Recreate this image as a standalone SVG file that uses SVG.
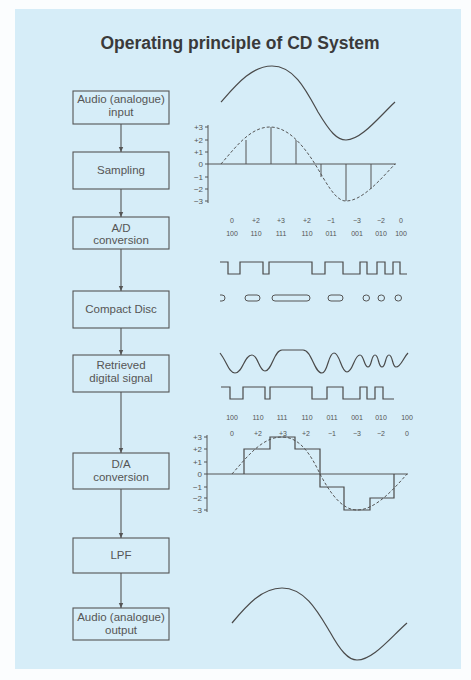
<svg xmlns="http://www.w3.org/2000/svg" width="471" height="680" viewBox="0 0 471 680">
<style>
.box{fill:none;stroke:#555;stroke-width:1.1}
.bt{font-family:"Liberation Sans",Arial,sans-serif;font-size:11.5px;fill:#555;text-anchor:middle}
.title{font-family:"Liberation Sans",Arial,sans-serif;font-size:17.5px;font-weight:bold;fill:#3a3a3a;text-anchor:middle}
.conn{stroke:#555;stroke-width:1.1;fill:none}
.ln{fill:none;stroke:#4a4a4a;stroke-width:1.2}
.thin{fill:none;stroke:#555;stroke-width:1}
.dash{fill:none;stroke:#555;stroke-width:1;stroke-dasharray:3 2}
.ax{font-family:"Liberation Sans",Arial,sans-serif;font-size:8px;fill:#555;text-anchor:end}
.cd{font-family:"Liberation Sans",Arial,sans-serif;font-size:7px;fill:#555;text-anchor:middle}
</style>
<defs>
<marker id="ah" markerWidth="6" markerHeight="6" refX="5" refY="3" orient="auto" markerUnits="userSpaceOnUse">
<path d="M0,0.8 L5,3 L0,5.2 Z" fill="#555"/>
</marker>
</defs>
<rect x="0" y="0" width="471" height="680" fill="#fbfdfe"/>
<rect x="15" y="9" width="446" height="660" fill="#d6edf8"/>
<text class="title" x="240" y="49">Operating principle of CD System</text>

<g id="connectors">
<line class="conn" x1="121" y1="124" x2="121" y2="152" marker-end="url(#ah)"/>
<line class="conn" x1="121" y1="189" x2="121" y2="217" marker-end="url(#ah)"/>
<line class="conn" x1="121" y1="249" x2="121" y2="291" marker-end="url(#ah)"/>
<line class="conn" x1="121" y1="328" x2="121" y2="355" marker-end="url(#ah)"/>
<line class="conn" x1="121" y1="392" x2="121" y2="453" marker-end="url(#ah)"/>
<line class="conn" x1="121" y1="489" x2="121" y2="538" marker-end="url(#ah)"/>
<line class="conn" x1="121" y1="573" x2="121" y2="608" marker-end="url(#ah)"/>
</g>

<g id="n1"><rect class="box" x="73" y="91" width="96" height="33"/><text class="bt" x="121" y="103">Audio (analogue)</text><text class="bt" x="121" y="116">input</text></g>
<g id="n2"><rect class="box" x="73" y="152" width="96" height="37"/><text class="bt" x="121" y="174">Sampling</text></g>
<g id="n3"><rect class="box" x="73" y="217" width="96" height="32"/><text class="bt" x="121" y="232">A/D</text><text class="bt" x="121" y="244">conversion</text></g>
<g id="n4"><rect class="box" x="73" y="291" width="96" height="37"/><text class="bt" x="121" y="313">Compact Disc</text></g>
<g id="n5"><rect class="box" x="73" y="355" width="96" height="37"/><text class="bt" x="121" y="369">Retrieved</text><text class="bt" x="121" y="382">digital signal</text></g>
<g id="n6"><rect class="box" x="73" y="453" width="96" height="36"/><text class="bt" x="121" y="468">D/A</text><text class="bt" x="121" y="481">conversion</text></g>
<g id="n7"><rect class="box" x="73" y="538" width="96" height="35"/><text class="bt" x="121" y="559">LPF</text></g>
<g id="n8"><rect class="box" x="73" y="608" width="96" height="32"/><text class="bt" x="121" y="621">Audio (analogue)</text><text class="bt" x="121" y="634">output</text></g>

<!-- input sine -->
<path class="ln" d="M221,102 C237,84 252,66 272,66 C294,66 306,90 318,112 C330,132 337,140 346,140 C361,140 378,118 395,102"/>

<!-- sampling graph -->
<g id="sampling">
<line class="thin" x1="208" y1="125" x2="208" y2="203"/>
<line class="thin" x1="205" y1="164" x2="396" y2="164"/>
<g class="thin">
<line x1="205" y1="127" x2="208" y2="127"/><line x1="205" y1="140" x2="208" y2="140"/><line x1="205" y1="152" x2="208" y2="152"/>
<line x1="205" y1="177" x2="208" y2="177"/><line x1="205" y1="189" x2="208" y2="189"/><line x1="205" y1="201" x2="208" y2="201"/>
</g>
<text class="ax" x="203" y="130">+3</text><text class="ax" x="203" y="143">+2</text><text class="ax" x="203" y="155">+1</text>
<text class="ax" x="203" y="167">0</text><text class="ax" x="203" y="180">−1</text><text class="ax" x="203" y="192">−2</text><text class="ax" x="203" y="204">−3</text>
<path class="dash" d="M221,164 C235,148 250,127 270,127 C288,127 303,145 315,164 C326,182 335,201 346,201 C362,201 380,180 395,164"/>
<g class="thin">
<line x1="246" y1="164" x2="246" y2="140"/><line x1="271" y1="164" x2="271" y2="127"/><line x1="296" y1="164" x2="296" y2="140"/>
<line x1="321" y1="164" x2="321" y2="177"/><line x1="346" y1="164" x2="346" y2="201"/><line x1="371" y1="164" x2="371" y2="189"/>
</g>
</g>

<!-- code labels row 1 -->
<g id="codes1">
<text class="cd" x="232" y="223">0</text><text class="cd" x="256" y="223">+2</text><text class="cd" x="281" y="223">+3</text><text class="cd" x="307" y="223">+2</text>
<text class="cd" x="331" y="223">−1</text><text class="cd" x="357" y="223">−3</text><text class="cd" x="381" y="223">−2</text><text class="cd" x="401" y="223">0</text>
<text class="cd" x="232" y="236">100</text><text class="cd" x="256" y="236">110</text><text class="cd" x="281" y="236">111</text><text class="cd" x="307" y="236">110</text>
<text class="cd" x="331" y="236">011</text><text class="cd" x="357" y="236">001</text><text class="cd" x="381" y="236">010</text><text class="cd" x="401" y="236">100</text>
</g>

<!-- digital square wave -->
<path class="ln" d="M220,262 H228 V274 H240 V262 H263 V274 H269 V262 H312 V274 H325 V262 H343 V274 H360 V262 H367 V274 H377 V262 H385 V274 H393 V262 H400 V274 H407"/>

<!-- pits -->
<g id="pits" class="thin">
<path d="M220,295 H222 A3,3 0 0 1 222,301 H220"/>
<rect x="245" y="295" width="15" height="6" rx="3"/>
<rect x="272" y="295" width="38" height="6" rx="3"/>
<rect x="328" y="295" width="15" height="6" rx="3"/>
<rect x="363" y="295" width="6.5" height="6" rx="3"/>
<rect x="378" y="295" width="6.5" height="6" rx="3"/>
<rect x="395" y="295" width="6.5" height="6" rx="3"/>
</g>

<!-- retrieved analog -->
<path class="ln" d="M220,353 C227,362 229,373 235,373 C243,373 244,355 252,355 C258,355 259,371 265,371 C272,371 274,350 282,350 L303,350 C312,350 314,373 322,373 C328,373 328,353 334,353 C340,353 341,372 347,372 C353,372 354,355 360,355 C364,355 364,367 368,367 C372,367 371,355 375,355 C379,355 378,367 382,367 C386,367 385,355 389,355 C393,355 392,367 396,367 C401,367 403,358 408,353"/>
<path class="ln" d="M221,387 H230 V399 H243 V387 H265 V399 H270 V387 H312 V399 H327 V387 H343 V399 H360 V387 H367 V399 H375 V387 H383 V399 H394"/>

<!-- code labels row 2 -->
<g id="codes2">
<text class="cd" x="232" y="420">100</text><text class="cd" x="258" y="420">110</text><text class="cd" x="282" y="420">111</text><text class="cd" x="307" y="420">110</text>
<text class="cd" x="332" y="420">011</text><text class="cd" x="357" y="420">001</text><text class="cd" x="381" y="420">010</text><text class="cd" x="407" y="420">100</text>
<text class="cd" x="232" y="436">0</text><text class="cd" x="258" y="436">+2</text><text class="cd" x="283" y="436">+3</text><text class="cd" x="306" y="436">+2</text>
<text class="cd" x="332" y="436">−1</text><text class="cd" x="357" y="436">−3</text><text class="cd" x="381" y="436">−2</text><text class="cd" x="407" y="436">0</text>
</g>

<!-- D/A graph -->
<g id="da">
<line class="thin" x1="207" y1="435" x2="207" y2="512"/>
<line class="thin" x1="204" y1="474" x2="408" y2="474"/>
<g class="thin">
<line x1="204" y1="437" x2="207" y2="437"/><line x1="204" y1="449" x2="207" y2="449"/><line x1="204" y1="462" x2="207" y2="462"/>
<line x1="204" y1="487" x2="207" y2="487"/><line x1="204" y1="498" x2="207" y2="498"/><line x1="204" y1="510" x2="207" y2="510"/>
</g>
<text class="ax" x="202" y="440">+3</text><text class="ax" x="202" y="452">+2</text><text class="ax" x="202" y="465">+1</text>
<text class="ax" x="202" y="477">0</text><text class="ax" x="202" y="490">−1</text><text class="ax" x="202" y="501">−2</text><text class="ax" x="202" y="513">−3</text>
<path class="dash" d="M232,474 C247,457 262,437 282,437 C300,437 311,455 320,474 C330,493 342,510 357,510 C375,510 393,490 407,474"/>
<path class="ln" d="M244,474 V449 H270 V437 H295 V449 H320 V487 H344 V510 H370 V498 H394 V474"/>
</g>

<!-- output sine -->
<path class="ln" d="M232,623 C247,605 262,588 282,588 C305,588 318,612 330,632 C340,650 348,660 357,660 C373,660 390,638 407,623"/>
</svg>
